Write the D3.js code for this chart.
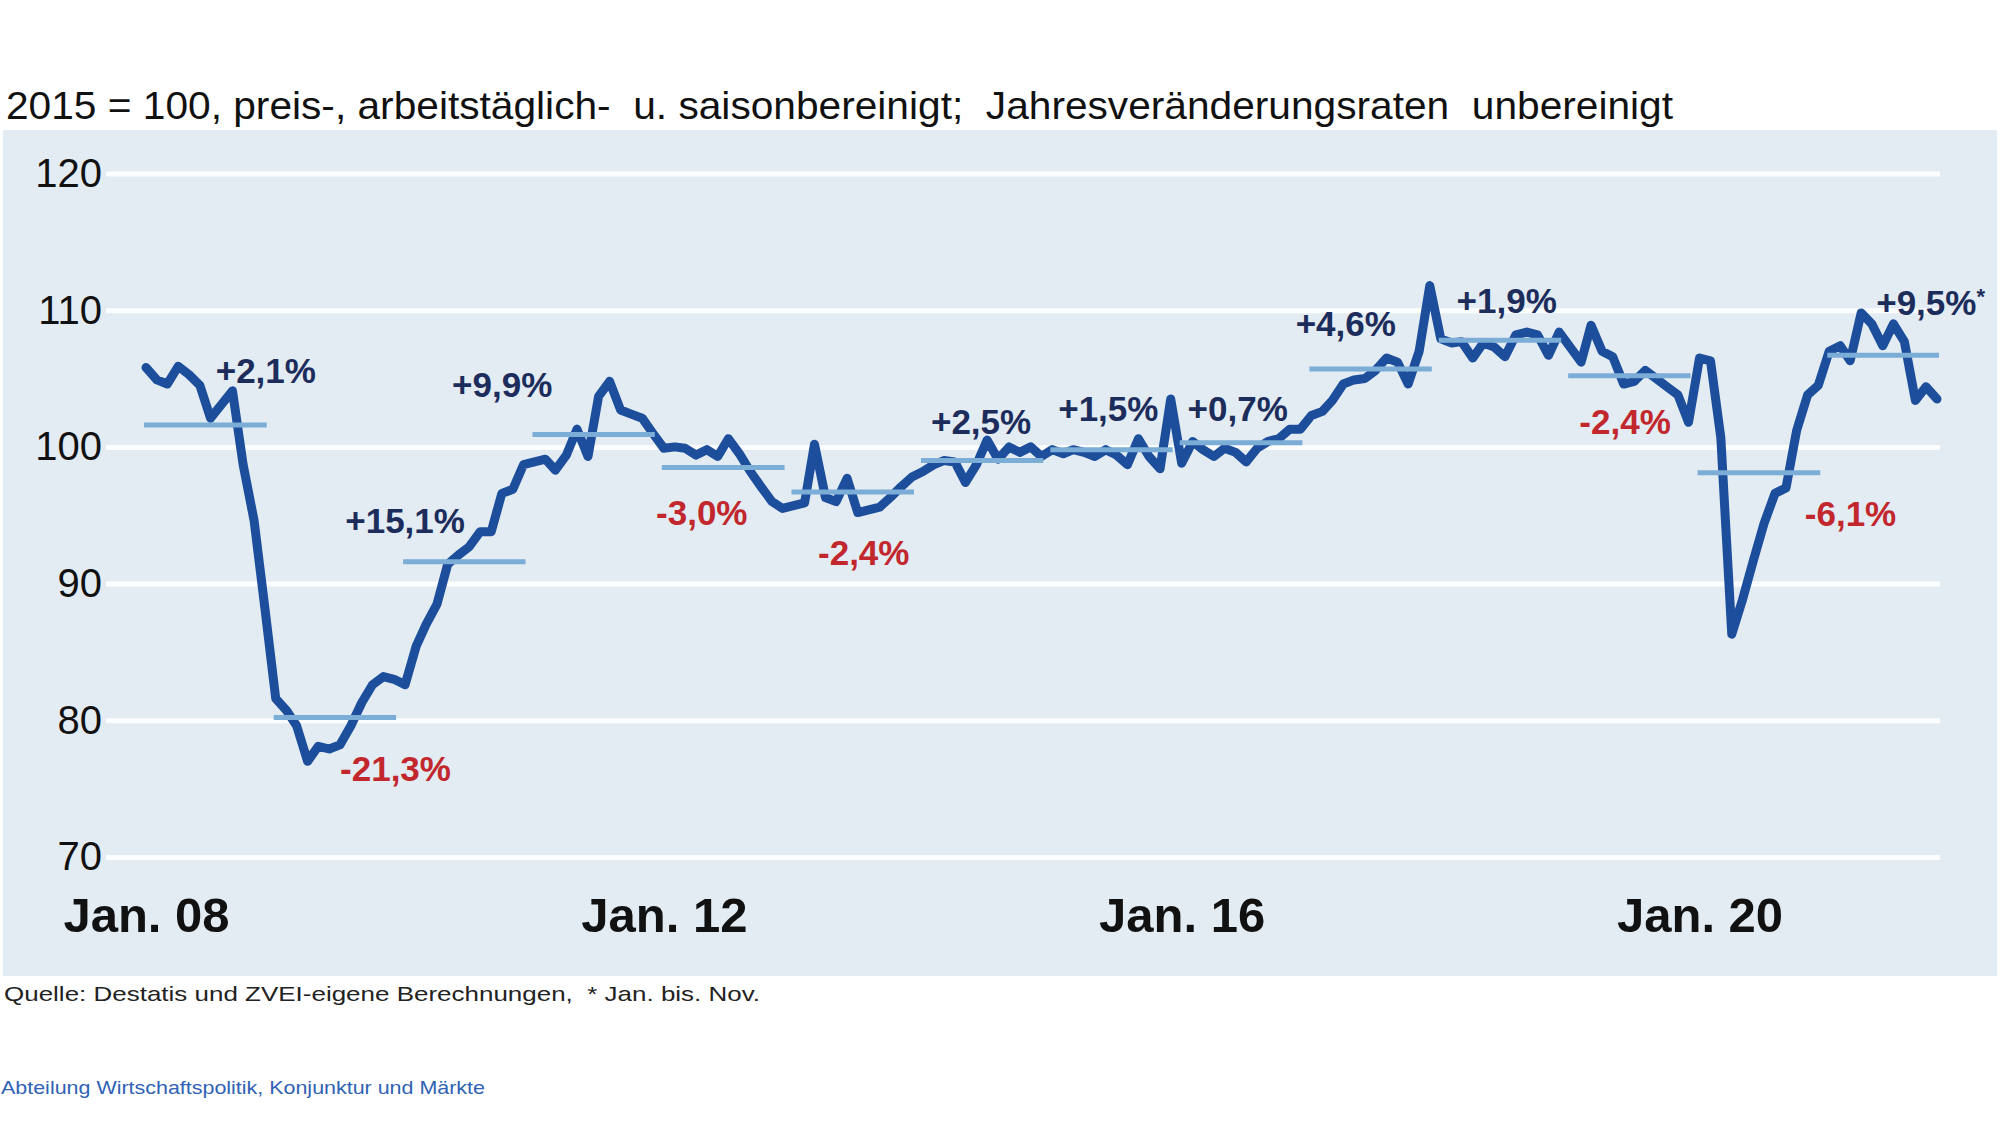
<!DOCTYPE html>
<html>
<head>
<meta charset="utf-8">
<script src="https://cdn.jsdelivr.net/npm/d3@7"></script>
<style>
  body { margin: 0; background: #ffffff; }
  svg { display: block; font-family: "Liberation Sans", Arial, sans-serif; }
</style>
</head>
<body>
<div id="chart"></div>
<script>
// Monthly production index, Jan 2008 - Nov 2021 (2015 = 100)
const startMonth = "2008-01";
const index = [
  105.8, 104.9, 104.6, 105.9, 105.3, 104.5, 102.1, 103.1, 104.1, 98.7, 94.6, 88.3,
  81.6, 80.7, 79.6, 77.0, 78.1, 77.9, 78.2, 79.6, 81.3, 82.6, 83.2, 83.0,
  82.6, 85.4, 87.0, 88.5, 91.4, 92.1, 92.7, 93.8, 93.8, 96.6, 96.9, 98.7,
  98.9, 99.1, 98.3, 99.4, 101.3, 99.3, 103.7, 104.8, 102.7, 102.4, 102.1, 101.0,
  99.9, 100.0, 99.9, 99.4, 99.8, 99.3, 100.6, 99.5, 98.2, 97.1, 96.0, 95.5,
  95.7, 95.9, 100.2, 96.3, 96.0, 97.7, 95.2, 95.4, 95.6, 96.3, 97.1, 97.8,
  98.2, 98.7, 99.0, 98.9, 97.4, 98.7, 100.5, 99.1, 100.0, 99.6, 100.0, 99.3,
  99.8, 99.5, 99.8, 99.6, 99.3, 99.8, 99.4, 98.7, 100.6, 99.3, 98.4, 103.5,
  98.8, 100.4, 99.8, 99.3, 99.9, 99.6, 98.9, 99.9, 100.4, 100.6, 101.3, 101.3,
  102.3, 102.6, 103.4, 104.6, 104.9, 105.0, 105.6, 106.5, 106.2, 104.6, 107.0, 111.8,
  107.9, 107.6, 107.7, 106.5, 107.6, 107.3, 106.6, 108.2, 108.4, 108.2, 106.7, 108.4,
  107.3, 106.2, 108.9, 107.0, 106.6, 104.6, 104.8, 105.6, 105.0, 104.4, 103.8, 101.8,
  106.5, 106.3, 100.7, 86.3, 88.8, 91.7, 94.4, 96.6, 97.0, 101.2, 103.8, 104.5,
  107.0, 107.4, 106.3, 109.8, 109.0, 107.4, 109.0, 107.7, 103.4, 104.4, 103.5
];

// Annual averages and unadjusted annual change rates
const years = [2008, 2009, 2010, 2011, 2012, 2013, 2014, 2015, 2016, 2017, 2018, 2019, 2020, 2021];
const annualAvg = [101.6, 80.2, 91.6, 100.9, 98.5, 96.7, 99.0, 99.8, 100.3, 105.7, 107.8, 105.2, 98.1, 106.7];
const annualChange = ["+2,1%", "-21,3%", "+15,1%", "+9,9%", "-3,0%", "-2,4%", "+2,5%",
                      "+1,5%", "+0,7%", "+4,6%", "+1,9%", "-2,4%", "-6,1%", "+9,5%"];

// Axis ticks
const yTicks = [70, 80, 90, 100, 110, 120];
const xTickYears = [2008, 2012, 2016, 2020];

// Where each change label sits, in data units: [month offset from Jan of its year, index value]
const labelAt = [
  [11.1, 105.6], [11.1, 76.5], [0.0, 94.6], [-3.0, 104.6], [3.5, 95.2], [6.5, 92.3], [5.4, 101.9],
  [5.2, 102.8], [5.2, 102.8], [3.2, 109.0], [6.1, 110.7], [5.1, 101.9], [14.0, 95.1], [9.4, 110.6]
];

const title = "2015 = 100, preis-, arbeitstäglich-  u. saisonbereinigt;  Jahresveränderungsraten  unbereinigt";
const source = "Quelle: Destatis und ZVEI-eigene Berechnungen,  * Jan. bis. Nov.";
const footer = "Abteilung Wirtschaftspolitik, Konjunktur und Märkte";


// Build data
const monthParser = d3.timeParse("%Y-%m");
const t0 = monthParser(startMonth);
const data = index.map((v, i) => ({ date: d3.timeMonth.offset(t0, i), value: v }));
const lastDate = data[data.length - 1].date;

const w = 2000;
const h = 1125;

let svg = d3.select("#chart")
            .append("svg")
            .attr("width", w)
            .attr("height", h);

// Background panel
svg.append("rect")
    .attr("x", 3)
    .attr("y", 130)
    .attr("width", 1994)
    .attr("height", 846)
    .attr("fill", "#e3ecf3");

// Title
svg.append("text")
    .attr("x", 6)
    .attr("y", 119)
    .attr("font-size", 39)
    .attr("font-family", "'Liberation Sans Narrow', 'Liberation Sans', Arial, sans-serif")
    .attr("fill", "#111")
    .attr("textLength", 1667)
    .attr("lengthAdjust", "spacingAndGlyphs")
    .style("white-space", "pre")
    .text(title);

// Scales
const xScale = d3.scaleTime()
                 .domain([t0, lastDate])
                 .range([146, 1937]);

const yScale = d3.scaleLinear()
                 .domain([70, 120])
                 .range([857, 173.5]);

const gridLeft = 106;
const gridRight = 1940;

// Y axis with white gridlines
const yAxis = d3.axisLeft(yScale)
                .tickValues(yTicks)
                .tickSize(-(gridRight - gridLeft))
                .tickPadding(4);

svg.append("g")
    .attr("transform", "translate(" + gridLeft + ",0)")
    .call(yAxis)
    .call(g => g.select(".domain").remove())
    .call(g => g.selectAll("line")
        .attr("stroke", "#fbfdff")
        .attr("stroke-width", 5))
    .call(g => g.selectAll("text")
        .attr("font-size", 40)
        .attr("fill", "#111")
        .attr("font-family", "'Liberation Sans', Arial, sans-serif"));

// X axis
const xAxis = d3.axisBottom(xScale)
                .tickValues(xTickYears.map(y => new Date(y, 0, 1)))
                .tickFormat(d3.timeFormat("Jan. %y"))
                .tickSize(0)
                .tickPadding(0);

svg.append("g")
    .attr("transform", "translate(0,897)")
    .call(xAxis)
    .call(g => g.select(".domain").remove())
    .call(g => g.selectAll("text")
        .attr("dy", "0.72em")
        .attr("font-size", 49)
        .attr("font-weight", "bold")
        .attr("fill", "#111")
        .attr("font-family", "'Liberation Sans', Arial, sans-serif"));

// Index line
let line = d3.line()
    .x(d => xScale(d.date))
    .y(d => yScale(d.value));

svg.append("path")
    .datum(data)
    .attr("fill", "none")
    .attr("stroke", "#1d4e9b")
    .attr("stroke-width", 9)
    .attr("stroke-linejoin", "round")
    .attr("stroke-linecap", "round")
    .attr("d", line);

// Annual average segments (Jan to Dec, or last month for the current year)
const segments = years.map((y, i) => {
    let from = new Date(y, 0, 1);
    let to = new Date(y, 11, 1);
    if (to > lastDate) to = lastDate;
    return { from: from, to: to, value: annualAvg[i] };
});

svg.append("g")
    .selectAll("line")
    .data(segments)
    .join("line")
        .attr("x1", d => xScale(d.from) - 2)
        .attr("x2", d => xScale(d.to) + 2)
        .attr("y1", d => yScale(d.value))
        .attr("y2", d => yScale(d.value))
        .attr("stroke", "#7badd6")
        .attr("stroke-width", 5);

// Change labels
const labels = svg.append("g")
    .selectAll("text")
    .data(annualChange)
    .join("text")
        .attr("x", (d, i) => xScale(d3.timeDay.offset(new Date(years[i], 0, 1), Math.round(labelAt[i][0] * 30.44))))
        .attr("y", (d, i) => yScale(labelAt[i][1]))
        .attr("dy", "0.36em")
        .attr("text-anchor", "middle")
        .attr("font-size", 35)
        .attr("font-weight", "bold")
        .attr("fill", d => d.startsWith("-") ? "#c1272d" : "#1c2d5c")
        .text(d => d);

// Footnote marker on the current year
labels.filter((d, i) => i === years.length - 1)
    .append("tspan")
    .attr("font-size", 22)
    .attr("dy", "-0.5em")
    .text("*");

// Source and department
svg.append("text")
    .attr("x", 4)
    .attr("y", 1001)
    .attr("font-size", 21)
    .attr("fill", "#222")
    .attr("textLength", 756)
    .attr("lengthAdjust", "spacingAndGlyphs")
    .style("white-space", "pre")
    .text(source);

svg.append("text")
    .attr("x", 1)
    .attr("y", 1094)
    .attr("font-size", 19)
    .attr("fill", "#2f62b5")
    .attr("textLength", 484)
    .attr("lengthAdjust", "spacingAndGlyphs")
    .text(footer);
</script>
</body>
</html>
